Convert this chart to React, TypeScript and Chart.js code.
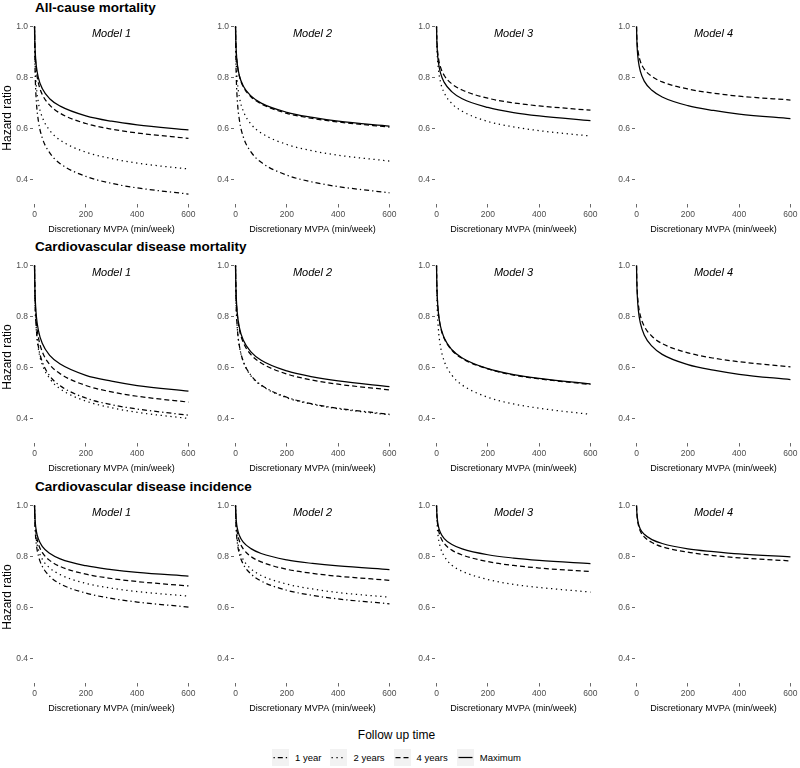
import React, { useEffect, useRef } from 'react';
import { Chart, registerables } from 'chart.js';

Chart.register(...registerables);

// ---------- data ----------
const MVPA = [0, 1, 3, 7, 15, 30, 60, 100, 200, 300, 400, 600];
const X_TICKS = [0, 200, 400, 600];
const Y_TICKS = [0.4, 0.6, 0.8, 1.0];
const OUTCOMES = ['All-cause mortality', 'Cardiovascular disease mortality', 'Cardiovascular disease incidence'];
const MODELS = ['Model 1', 'Model 2', 'Model 3', 'Model 4'];
const FOLLOW_UP = ['1 year', '2 years', '4 years', 'Maximum'];

// All-cause mortality
const ACM_M1_1Y = [1, 0.891, 0.794, 0.707, 0.630, 0.564, 0.504, 0.463, 0.413, 0.386, 0.368, 0.344];
const ACM_M1_2Y = [1, 0.915, 0.838, 0.767, 0.702, 0.645, 0.592, 0.555, 0.508, 0.483, 0.465, 0.442];
const ACM_M1_4Y = [1, 0.940, 0.883, 0.829, 0.779, 0.734, 0.691, 0.660, 0.620, 0.598, 0.583, 0.562];
const ACM_M1_MAX = [1, 0.945, 0.894, 0.845, 0.799, 0.757, 0.716, 0.688, 0.650, 0.629, 0.615, 0.595];
const ACM_M2_1Y = [1, 0.892, 0.796, 0.710, 0.634, 0.568, 0.509, 0.468, 0.418, 0.391, 0.373, 0.349];
const ACM_M2_2Y = [1, 0.922, 0.850, 0.784, 0.723, 0.669, 0.618, 0.583, 0.538, 0.513, 0.496, 0.473];
const ACM_M2_4Y = [1, 0.947, 0.897, 0.850, 0.805, 0.764, 0.725, 0.697, 0.660, 0.640, 0.626, 0.606];
const ACM_M2_MAX = [1, 0.948, 0.899, 0.852, 0.807, 0.767, 0.728, 0.700, 0.664, 0.644, 0.629, 0.610];
const ACM_M3_2Y = [1, 0.941, 0.886, 0.834, 0.784, 0.740, 0.698, 0.668, 0.628, 0.607, 0.592, 0.571];
const ACM_M3_4Y = [1, 0.958, 0.918, 0.879, 0.842, 0.808, 0.775, 0.751, 0.719, 0.701, 0.689, 0.672];
const ACM_M3_MAX = [1, 0.951, 0.905, 0.861, 0.819, 0.781, 0.744, 0.717, 0.683, 0.663, 0.650, 0.631];
const ACM_M4_4Y = [1, 0.964, 0.929, 0.896, 0.863, 0.833, 0.804, 0.783, 0.755, 0.739, 0.727, 0.712];
const ACM_M4_MAX = [1, 0.953, 0.908, 0.865, 0.824, 0.786, 0.750, 0.724, 0.690, 0.671, 0.657, 0.639];

// Cardiovascular disease mortality
const CVDM_M1_1Y = [1, 0.909, 0.826, 0.751, 0.682, 0.623, 0.567, 0.529, 0.481, 0.455, 0.438, 0.414];
const CVDM_M1_2Y = [1, 0.906, 0.820, 0.743, 0.673, 0.612, 0.556, 0.517, 0.469, 0.443, 0.425, 0.401];
const CVDM_M1_4Y = [1, 0.920, 0.847, 0.780, 0.718, 0.663, 0.611, 0.576, 0.530, 0.505, 0.488, 0.465];
const CVDM_M1_MAX = [1, 0.929, 0.864, 0.802, 0.746, 0.695, 0.647, 0.614, 0.570, 0.547, 0.530, 0.508];
const CVDM_M2_1Y = [1, 0.910, 0.827, 0.753, 0.685, 0.625, 0.570, 0.532, 0.484, 0.458, 0.441, 0.417];
const CVDM_M2_2Y = [1, 0.909, 0.827, 0.751, 0.683, 0.624, 0.568, 0.530, 0.482, 0.456, 0.439, 0.415];
const CVDM_M2_4Y = [1, 0.930, 0.865, 0.805, 0.749, 0.699, 0.651, 0.618, 0.575, 0.551, 0.535, 0.513];
const CVDM_M2_MAX = [1, 0.933, 0.870, 0.812, 0.757, 0.708, 0.662, 0.629, 0.587, 0.564, 0.548, 0.526];
const CVDM_M3_2Y = [1, 0.910, 0.827, 0.753, 0.685, 0.625, 0.570, 0.532, 0.484, 0.458, 0.441, 0.417];
const CVDM_M3_4Y = [1, 0.934, 0.873, 0.816, 0.762, 0.714, 0.668, 0.636, 0.595, 0.571, 0.556, 0.534];
const CVDM_M3_MAX = [1, 0.935, 0.874, 0.817, 0.763, 0.716, 0.670, 0.638, 0.596, 0.573, 0.558, 0.536];
const CVDM_M4_4Y = [1, 0.947, 0.896, 0.848, 0.803, 0.762, 0.723, 0.694, 0.658, 0.637, 0.623, 0.603];
const CVDM_M4_MAX = [1, 0.938, 0.880, 0.825, 0.774, 0.728, 0.684, 0.652, 0.612, 0.590, 0.574, 0.553];

// Cardiovascular disease incidence
const CVDI_M1_1Y = [1, 0.947, 0.896, 0.848, 0.803, 0.762, 0.722, 0.693, 0.657, 0.636, 0.622, 0.602];
const CVDI_M1_2Y = [1, 0.954, 0.909, 0.867, 0.827, 0.790, 0.755, 0.729, 0.695, 0.676, 0.663, 0.645];
const CVDI_M1_4Y = [1, 0.960, 0.921, 0.884, 0.849, 0.816, 0.784, 0.761, 0.731, 0.714, 0.702, 0.685];
const CVDI_M1_MAX = [1, 0.966, 0.932, 0.900, 0.869, 0.840, 0.812, 0.791, 0.764, 0.749, 0.738, 0.723];
const CVDI_M2_1Y = [1, 0.949, 0.900, 0.854, 0.810, 0.770, 0.732, 0.704, 0.668, 0.648, 0.634, 0.615];
const CVDI_M2_2Y = [1, 0.953, 0.908, 0.866, 0.825, 0.788, 0.752, 0.726, 0.692, 0.673, 0.659, 0.641];
const CVDI_M2_4Y = [1, 0.963, 0.928, 0.893, 0.861, 0.830, 0.800, 0.779, 0.750, 0.734, 0.723, 0.707];
const CVDI_M2_MAX = [1, 0.969, 0.939, 0.910, 0.882, 0.856, 0.831, 0.812, 0.787, 0.773, 0.763, 0.749];
const CVDI_M3_2Y = [1, 0.956, 0.914, 0.874, 0.836, 0.801, 0.766, 0.742, 0.710, 0.691, 0.679, 0.661];
const CVDI_M3_4Y = [1, 0.968, 0.937, 0.907, 0.878, 0.851, 0.825, 0.806, 0.780, 0.765, 0.755, 0.741];
const CVDI_M3_MAX = [1, 0.972, 0.946, 0.919, 0.894, 0.870, 0.847, 0.830, 0.807, 0.794, 0.785, 0.772];
const CVDI_M4_4Y = [1, 0.974, 0.948, 0.924, 0.899, 0.877, 0.855, 0.838, 0.817, 0.804, 0.795, 0.783];
const CVDI_M4_MAX = [1, 0.976, 0.953, 0.930, 0.907, 0.887, 0.866, 0.851, 0.830, 0.819, 0.810, 0.799];

// panel table: [row][col] -> series per follow-up (1y, 2y, 4y, max)
type S = number[] | null;
const PANELS: S[][][] = [
  [
    [ACM_M1_1Y, ACM_M1_2Y, ACM_M1_4Y, ACM_M1_MAX],
    [ACM_M2_1Y, ACM_M2_2Y, ACM_M2_4Y, ACM_M2_MAX],
    [null, ACM_M3_2Y, ACM_M3_4Y, ACM_M3_MAX],
    [null, null, ACM_M4_4Y, ACM_M4_MAX],
  ],
  [
    [CVDM_M1_1Y, CVDM_M1_2Y, CVDM_M1_4Y, CVDM_M1_MAX],
    [CVDM_M2_1Y, CVDM_M2_2Y, CVDM_M2_4Y, CVDM_M2_MAX],
    [null, CVDM_M3_2Y, CVDM_M3_4Y, CVDM_M3_MAX],
    [null, null, CVDM_M4_4Y, CVDM_M4_MAX],
  ],
  [
    [CVDI_M1_1Y, CVDI_M1_2Y, CVDI_M1_4Y, CVDI_M1_MAX],
    [CVDI_M2_1Y, CVDI_M2_2Y, CVDI_M2_4Y, CVDI_M2_MAX],
    [null, CVDI_M3_2Y, CVDI_M3_4Y, CVDI_M3_MAX],
    [null, null, CVDI_M4_4Y, CVDI_M4_MAX],
  ],
];

// ---------- styling / geometry ----------
const FONT = '"Liberation Sans", Arial, Helvetica, sans-serif';
const DASHES: number[][] = [
  [1.3, 3, 5, 3], // 1 year: dot-dash
  [1.3, 3.6], // 2 years: dotted
  [5, 3], // 4 years: dashed
  [], // Maximum: solid
];
const LINE_W = 1.25;

const X_MIN = -6;
const X_MAX = 606;
const Y_MIN = 0.305;
const Y_MAX = 1.033;
const COL_X0 = [35, 235.7, 436.2, 637];
const ROW_Y1 = [26.7, 265.7, 505.7];
const PX_PER_X = 154 / 600;
const PX_PER_Y = 255;
const PLOT_W = Math.round((X_MAX - X_MIN) * PX_PER_X);
const PLOT_H = Math.round((Y_MAX - Y_MIN) * PX_PER_Y);
const Y_AXIS_W = 24;
const X_AXIS_H = 31;
const PAD_TOP = 2;
const PAD_RIGHT = 10;

const modelLabelPlugin = {
  id: 'modelLabel',
  afterDatasetsDraw(chart: any, _args: any, opts: any) {
    const { ctx, scales } = chart;
    ctx.save();
    ctx.font = `italic 11px ${FONT}`;
    ctx.fillStyle = '#000';
    ctx.textAlign = 'center';
    ctx.textBaseline = 'middle';
    ctx.fillText(opts.text, scales.x.getPixelForValue(opts.x), scales.y.getPixelForValue(opts.y));
    ctx.restore();
  },
};

function Panel({ row, col }: { row: number; col: number }) {
  const ref = useRef<HTMLCanvasElement>(null);
  const plotLeft = Math.round(COL_X0[col] + X_MIN * PX_PER_X);
  const plotTop = Math.round(ROW_Y1[row] - (Y_MAX - 1) * PX_PER_Y);
  const left = plotLeft - Y_AXIS_W;
  const top = plotTop - PAD_TOP;
  const width = Y_AXIS_W + PLOT_W + PAD_RIGHT;
  const height = PAD_TOP + PLOT_H + X_AXIS_H;

  useEffect(() => {
    if (!ref.current) return;
    const series = PANELS[row][col];
    const datasets: any[] = [];
    series.forEach((vals, i) => {
      if (!vals) return;
      datasets.push({
        label: FOLLOW_UP[i],
        data: MVPA.map((x, k) => ({ x, y: vals[k] })),
        borderColor: '#000',
        borderWidth: LINE_W,
        borderDash: DASHES[i],
        pointRadius: 0,
        fill: false,
        cubicInterpolationMode: 'monotone',
      });
    });
    const tickFont = { family: FONT, size: 8.5 };
    const grid = {
      display: true,
      drawOnChartArea: false,
      drawTicks: true,
      tickLength: 3,
      tickColor: '#444',
      tickWidth: 0.8,
    };
    const chart = new Chart(ref.current, {
      type: 'line',
      data: { datasets },
      options: {
        animation: false,
        responsive: false,
        maintainAspectRatio: false,
        events: [],
        layout: { padding: { top: PAD_TOP, right: PAD_RIGHT, left: 0, bottom: 0 } },
        plugins: {
          legend: { display: false },
          tooltip: { enabled: false },
          modelLabel: { text: MODELS[col], x: 300, y: 0.972 },
        } as any,
        scales: {
          x: {
            type: 'linear',
            min: X_MIN,
            max: X_MAX,
            afterBuildTicks: (s: any) => {
              s.ticks = X_TICKS.map((v) => ({ value: v }));
            },
            afterFit: (s: any) => {
              s.height = X_AXIS_H;
              s.paddingLeft = 0;
              s.paddingRight = 0;
            },
            grid: { ...grid, tickLength: 3.5 },
            border: { display: false },
            ticks: {
              color: '#4D4D4D',
              font: tickFont,
              padding: 2,
              maxRotation: 0,
              autoSkip: false,
              callback: (v: any) => String(v),
            },
            title: {
              display: true,
              text: 'Discretionary MVPA (min/week)',
              color: '#000',
              font: { family: FONT, size: 9 },
              padding: { top: 0, bottom: 0 },
            },
          },
          y: {
            type: 'linear',
            min: Y_MIN,
            max: Y_MAX,
            afterBuildTicks: (s: any) => {
              s.ticks = Y_TICKS.map((v) => ({ value: v }));
            },
            afterFit: (s: any) => {
              s.width = Y_AXIS_W;
              s.paddingTop = 0;
              s.paddingBottom = 0;
            },
            grid,
            border: { display: false },
            ticks: {
              color: '#4D4D4D',
              font: tickFont,
              padding: 2,
              autoSkip: false,
              callback: (v: any) => Number(v).toFixed(1),
            },
          },
        },
      } as any,
      plugins: [modelLabelPlugin],
    });
    return () => chart.destroy();
  }, [row, col]);

  return (
    <canvas
      ref={ref}
      width={width}
      height={height}
      style={{ position: 'absolute', left, top, width, height }}
    />
  );
}

function LegendKey({ dash }: { dash: number[] }) {
  return (
    <svg width={17} height={17} style={{ background: '#F2F2F2', display: 'block' }}>
      <line
        x1={1.5}
        y1={8.5}
        x2={15.5}
        y2={8.5}
        stroke="#000"
        strokeWidth={LINE_W}
        strokeDasharray={dash.length ? dash.join(' ') : undefined}
      />
    </svg>
  );
}

export default function App() {
  const rows = [0, 1, 2];
  const cols = [0, 1, 2, 3];
  return (
    <div
      style={{
        position: 'absolute',
        left: 0,
        top: 0,
        width: 800,
        height: 768,
        background: '#fff',
        fontFamily: FONT,
        overflow: 'hidden',
      }}
    >
      {rows.map((r) => cols.map((c) => <Panel key={`${r}-${c}`} row={r} col={c} />))}
      {rows.map((r) => (
        <div
          key={`t${r}`}
          style={{
            position: 'absolute',
            left: 35,
            top: ROW_Y1[r] - 18.4 - 8,
            height: 16,
            lineHeight: '16px',
            fontSize: 13.5,
            fontWeight: 'bold',
            whiteSpace: 'nowrap',
            color: '#000',
          }}
        >
          {OUTCOMES[r]}
        </div>
      ))}
      {rows.map((r) => (
        <div
          key={`y${r}`}
          style={{
            position: 'absolute',
            left: 7.3,
            top: ROW_Y1[r] + 91,
            fontSize: 12,
            lineHeight: '14px',
            whiteSpace: 'nowrap',
            color: '#000',
            transform: 'translate(-50%, -50%) rotate(-90deg)',
          }}
        >
          Hazard ratio
        </div>
      ))}
      <div
        style={{
          position: 'absolute',
          left: 0,
          width: 793,
          top: 727,
          height: 16,
          lineHeight: '16px',
          textAlign: 'center',
          fontSize: 12,
          color: '#000',
        }}
      >
        Follow up time
      </div>
      <div
        style={{
          position: 'absolute',
          left: 0,
          width: 793,
          top: 748.5,
          height: 17,
          display: 'flex',
          justifyContent: 'center',
          alignItems: 'center',
          fontSize: 9.5,
          color: '#000',
        }}
      >
        {FOLLOW_UP.map((f, i) => (
          <div key={f} style={{ display: 'flex', alignItems: 'center', marginLeft: i ? 9 : 0 }}>
            <LegendKey dash={DASHES[i]} />
            <span style={{ marginLeft: 6, whiteSpace: 'nowrap' }}>{f}</span>
          </div>
        ))}
      </div>
    </div>
  );
}
